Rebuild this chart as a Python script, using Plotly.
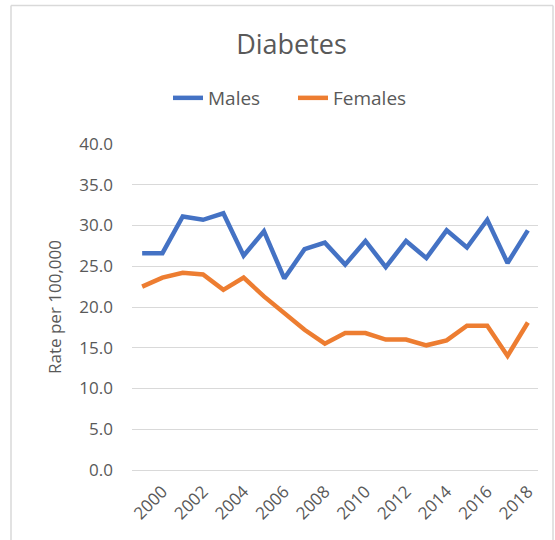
import plotly.graph_objects as go

years = list(range(1999, 2019))
males = [26.6, 26.6, 31.1, 30.7, 31.5, 26.3, 29.3, 23.5, 27.1, 27.9, 25.2, 28.1,
         24.9, 28.1, 26.0, 29.4, 27.3, 30.7, 25.4, 29.4]
females = [22.5, 23.6, 24.2, 24.0, 22.1, 23.6, 21.3, 19.2, 17.2, 15.5, 16.8, 16.8,
           16.0, 16.0, 15.3, 15.9, 17.7, 17.7, 14.0, 18.1]
tick_years = list(range(2000, 2019, 2))
y_ticks = [0, 5, 10, 15, 20, 25, 30, 35, 40]

FONT = "Open Sans"
GRAY = "#595959"
GRID = "#d9d9d9"

fig = go.Figure()
fig.add_trace(go.Scatter(x=years, y=males, name="Males", mode="lines",
                         line=dict(color="#4472C4", width=4.5, shape="linear")))
fig.add_trace(go.Scatter(x=years, y=females, name="Females", mode="lines",
                         line=dict(color="#ED7D31", width=4.5, shape="linear")))

L, R, T, B = 132, 17, 144, 70
W, H = 555, 540
pw, ph = W - L - R, H - T - B

def px_x(p):
    return (p - L) / pw

def px_y(p):
    return (H - B - p) / ph

frame = dict(color=GRID, width=1.5)
fig.update_layout(
    width=W, height=H,
    margin=dict(l=L, r=R, t=T, b=B),
    paper_bgcolor="white", plot_bgcolor="white",
    font=dict(family=FONT, color=GRAY, size=17),
    title=dict(text="Diabetes", x=291.5 / W, xanchor="center",
               y=1 - 45 / H, yanchor="middle", yref="container",
               font=dict(size=27, color=GRAY, family=FONT)),
    legend=dict(orientation="h", x=px_x(293), xanchor="center",
                y=px_y(98), yanchor="middle",
                font=dict(size=19, color=GRAY), itemwidth=30,
                entrywidth=80, entrywidthmode="pixels",
                bgcolor="rgba(0,0,0,0)"),
    showlegend=True,
    xaxis=dict(range=[1998.5, 2018.5], tickmode="array", tickvals=tick_years,
               ticktext=[str(t) for t in tick_years], tickangle=-45,
               showgrid=False, zeroline=False, showline=True, linecolor=GRID,
               linewidth=1, ticks="", tickfont=dict(size=17, color=GRAY),
               ticklabelstandoff=4),
    yaxis=dict(range=[0, 40], tickmode="array", tickvals=y_ticks,
               ticktext=[f"{v:.1f}" for v in y_ticks],
               showgrid=True, gridcolor=GRID, gridwidth=1, zeroline=False,
               showline=False, ticks="", tickfont=dict(size=17, color=GRAY),
               ticklabelstandoff=18,
               title=dict(text="Rate per 100,000", standoff=13,
                          font=dict(size=17, color=GRAY))),
    shapes=[
        dict(type="line", xref="paper", yref="paper", x0=px_x(11), x1=px_x(553),
             y0=px_y(5.5), y1=px_y(5.5), line=frame, layer="above"),
        dict(type="line", xref="paper", yref="paper", x0=px_x(11), x1=px_x(11),
             y0=px_y(5.5), y1=px_y(545), line=frame, layer="above"),
        dict(type="line", xref="paper", yref="paper", x0=px_x(553), x1=px_x(553),
             y0=px_y(5.5), y1=px_y(545), line=frame, layer="above"),
    ],
)

fig.write_html("out.html", config={"displayModeBar": False},
               post_script="document.body.style.margin='0';"
                           "document.body.style.overflow='hidden';")
